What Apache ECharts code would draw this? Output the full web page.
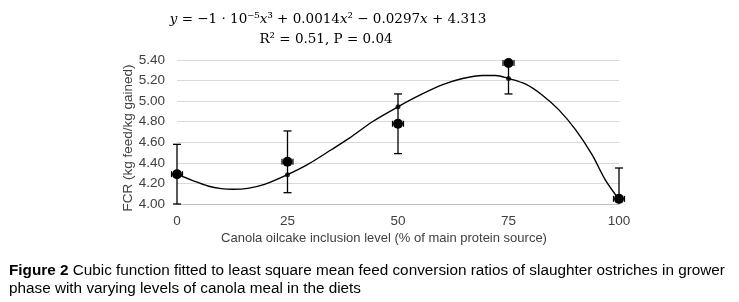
<!DOCTYPE html>
<html>
<head>
<meta charset="utf-8">
<script src="https://cdn.jsdelivr.net/npm/echarts@6/dist/echarts.min.js"></script>
<style>
  html, body { margin: 0; padding: 0; background: #fff; }
  #chart { width: 739px; height: 302px; }
</style>
</head>
<body>
<div id="chart"></div>
<script>
// inclusion levels (% of main protein source)
const levels = [0, 25, 50, 75, 100]
// least square means and their standard errors
const means = [4.29, 4.41, 4.78, 5.37, 4.05]
const errors = [0.29, 0.30, 0.29, 0.30, 0.30]
// fitted values at each level (small dots on the curve)
const fitted = [4.29, 4.285, 4.945, 5.22, 4.05]
// fitted curve
const curveX = [0, 4, 7, 10, 12.6, 16, 19.8, 25, 29.6, 35, 39, 44.2, 50, 54.8, 60.1, 64.6, 69.1, 72.1, 75, 78.9, 82.6, 86.4, 90.2, 93.9, 96.9, 100]
const curveY = [4.29, 4.22, 4.175, 4.15, 4.143, 4.152, 4.19, 4.285, 4.385, 4.53, 4.64, 4.80, 4.945, 5.055, 5.16, 5.22, 5.25, 5.25, 5.22, 5.165, 5.06, 4.915, 4.72, 4.48, 4.235, 4.045]
// axis ticks
const xTicks = [0, 25, 50, 75, 100]
const yMin = 4.0
const yMax = 5.4
const yStep = 0.2

const labelColor = '#404040'
const sansFont = 'Liberation Sans, Arial, sans-serif'
const mathFont = '"DejaVu Serif", serif'

const chart = echarts.init(document.getElementById('chart'))

// vertical error bars, clipped to the axis range like the original
const errorBarItem = (params, api) => {
    const x = api.value(0)
    const lo = api.value(1)
    const hi = api.value(2)
    const pLo = api.coord([x, Math.max(lo, yMin)])
    const pHi = api.coord([x, Math.min(hi, yMax)])
    const cap = 4
    const st = { stroke: '#000', lineWidth: 1.3 }
    const children = [{
        type: 'line',
        shape: { x1: pLo[0], y1: pLo[1], x2: pHi[0], y2: pHi[1] },
        style: st
    }]
    if (lo >= yMin) {
        children.push({ type: 'line', shape: { x1: pLo[0] - cap, y1: pLo[1], x2: pLo[0] + cap, y2: pLo[1] }, style: st })
    }
    if (hi <= yMax) {
        children.push({ type: 'line', shape: { x1: pHi[0] - cap, y1: pHi[1], x2: pHi[0] + cap, y2: pHi[1] }, style: st })
    }
    return { type: 'group', children }
}

// mean markers: filled dot with tiny horizontal caps
const meanItem = (params, api) => {
    const p = api.coord([api.value(0), api.value(1)])
    const st = { stroke: '#000', lineWidth: 1.2 }
    return {
        type: 'group',
        children: [
            { type: 'circle', shape: { cx: p[0], cy: p[1], r: 5 }, style: { fill: '#000' } },
            { type: 'line', shape: { x1: p[0] - 5.5, y1: p[1] - 3, x2: p[0] - 5.5, y2: p[1] + 3 }, style: st },
            { type: 'line', shape: { x1: p[0] + 5.5, y1: p[1] - 3, x2: p[0] + 5.5, y2: p[1] + 3 }, style: st }
        ]
    }
}

const option = {
    animation: false,
    backgroundColor: '#fff',
    grid: {
        left: 177,
        right: 120,
        top: 60,
        bottom: 98,
        containLabel: false
    },
    xAxis: {
        type: 'value',
        min: xTicks[0],
        max: xTicks[xTicks.length - 1],
        interval: 25,
        axisLine: { show: true, lineStyle: { color: '#bfbfbf', width: 1 } },
        axisTick: { show: false },
        splitLine: { show: false },
        axisLabel: {
            color: labelColor,
            fontFamily: sansFont,
            fontSize: 13.5,
            margin: 10
        }
    },
    yAxis: {
        type: 'value',
        min: yMin,
        max: yMax,
        interval: yStep,
        axisLine: { show: false },
        axisTick: { show: false },
        splitLine: { show: true, lineStyle: { color: '#d9d9d9', width: 1 } },
        axisLabel: {
            color: labelColor,
            fontFamily: sansFont,
            fontSize: 13.5,
            margin: 12,
            formatter: v => v.toFixed(2)
        }
    },
    graphic: [
        {
            type: 'text',
            x: 328,
            y: 19,
            style: {
                text: '{i|y} = −1 · 10⁻⁵{i|x}³ + 0.0014{i|x}² − 0.0297{i|x} + 4.313',
                font: '13.5px ' + mathFont,
                fill: '#000',
                align: 'center',
                verticalAlign: 'middle',
                rich: { i: { fontStyle: 'italic', fontSize: 13.5, fontFamily: 'DejaVu Serif' } }
            }
        },
        {
            type: 'text',
            x: 326,
            y: 39,
            style: {
                text: 'R² = 0.51, P = 0.04',
                font: '13.5px ' + mathFont,
                fill: '#000',
                align: 'center',
                verticalAlign: 'middle'
            }
        },
        {
            type: 'text',
            x: 128,
            y: 138,
            rotation: Math.PI / 2,
            style: {
                text: 'FCR (kg feed/kg gained)',
                font: '13.5px ' + sansFont,
                fill: labelColor,
                align: 'center',
                verticalAlign: 'middle'
            }
        },
        {
            type: 'text',
            x: 384,
            y: 238,
            style: {
                text: 'Canola oilcake inclusion level (% of main protein source)',
                font: '13px ' + sansFont,
                fill: labelColor,
                align: 'center',
                verticalAlign: 'middle'
            }
        },
        {
            type: 'text',
            x: 9,
            y: 271,
            style: {
                text: '{b|Figure 2} Cubic function fitted to least square mean feed conversion ratios of slaughter ostriches in grower',
                font: '15.3px ' + sansFont,
                fill: '#000',
                verticalAlign: 'middle',
                rich: { b: { fontWeight: 'bold', fontSize: 15.3, fontFamily: 'Liberation Sans' } }
            }
        },
        {
            type: 'text',
            x: 9,
            y: 289,
            style: {
                text: 'phase with varying levels of canola meal in the diets',
                font: '15.3px ' + sansFont,
                fill: '#000',
                verticalAlign: 'middle'
            }
        }
    ],
    series: [
        {
            name: 'curve',
            type: 'line',
            smooth: 0.3,
            showSymbol: false,
            lineStyle: { color: '#000', width: 1.4 },
            data: curveX.map((x, i) => [x, curveY[i]]),
            z: 2
        },
        {
            name: 'error',
            type: 'custom',
            renderItem: errorBarItem,
            data: levels.map((x, i) => [x, means[i] - errors[i], means[i] + errors[i]]),
            z: 3
        },
        {
            name: 'fitted',
            type: 'scatter',
            symbolSize: 5,
            itemStyle: { color: '#000' },
            data: levels.map((x, i) => [x, fitted[i]]),
            z: 4
        },
        {
            name: 'mean',
            type: 'custom',
            renderItem: meanItem,
            data: levels.map((x, i) => [x, means[i]]),
            z: 5
        }
    ]
}

chart.setOption(option)
window.onresize = () => chart.resize()
</script>
</body>
</html>
